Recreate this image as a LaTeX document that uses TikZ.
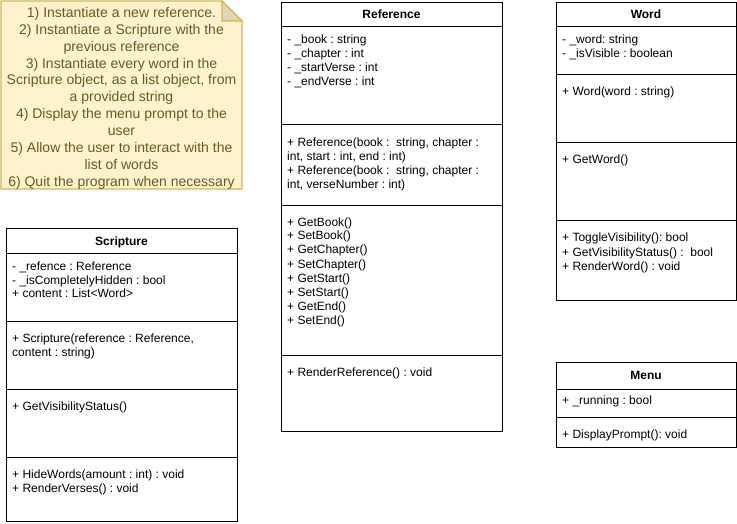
\documentclass[tikz,border=0pt]{standalone}
\usepackage{fontspec}
\setmainfont{Liberation Sans}
\frenchspacing
\definecolor{notefill}{HTML}{FFF2CC}
\definecolor{notedraw}{HTML}{D6B656}
\definecolor{notetxt}{RGB}{102,92,35}
\tikzset{
  classbox/.style={draw=black, line width=1pt, fill=white, inner sep=0pt, anchor=north west},
  sepline/.style={draw=black, line width=1pt},
  attr/.style={anchor=base west, inner sep=0pt, font=\fontsize{12}{14}\selectfont},
  ctitle/.style={anchor=base, inner sep=0pt, font=\fontsize{12}{14}\selectfont\bfseries},
  noteshape/.style={draw=notedraw, fill=notefill, line width=1.2pt, line join=miter},
  notefold/.style={draw=notedraw, fill=notefill!88!black, line width=1.2pt},
  noteline/.style={anchor=base, inner sep=0pt, text=notetxt, font=\fontsize{14}{17}\selectfont},
}
\begin{document}
\begin{tikzpicture}[x=1pt, y=-1pt]
\useasboundingbox (0,0) rectangle (737,524);

% ---------- Note ----------
\draw[noteshape] (1,1) -- (222,1) -- (242,21) -- (242,189) -- (1,189) -- cycle;
\draw[notefold] (222,1) -- (222,21) -- (242,21) -- cycle;
\foreach \t [count=\i] in {
  {1) Instantiate a new reference.},
  {2) Instantiate a Scripture with the},
  {previous reference},
  {3) Instantiate every word in the},
  {Scripture object, as a list object, from},
  {a provided string},
  {4) Display the menu prompt to the},
  {user},
  {5) Allow the user to interact with the},
  {list of words},
  {6) Quit the program when necessary}}
  \node[noteline] (note\i) at (121.5,{17.5+16.85*(\i-1)}) {\t};

% ---------- Scripture ----------
\node[classbox, minimum width=231pt, minimum height=293pt] (scripture) at (6,228) {};
\foreach \yy in {253,321,389,457}
  \draw[sepline] (scripture.west |- 0,\yy) -- (scripture.east |- 0,\yy);
\node[ctitle] (scriptureT) at (121.5,245) {Scripture};
\foreach \t [count=\i] in {
  {- \_refence : Reference},
  {- \_isCompletelyHidden : bool},
  {+ content : List<Word>}}
  \node[attr] (scA\i) at (12,{270+14*(\i-1)}) {\t};
\foreach \t [count=\i] in {
  {+ Scripture(reference : Reference,},
  {content : string)}}
  \node[attr] (scB\i) at (12,{342+14*(\i-1)}) {\t};
\node[attr] (scC1) at (12,410) {+ GetVisibilityStatus()};
\foreach \t [count=\i] in {
  {+ HideWords(amount : int) : void},
  {+ RenderVerses() : void}}
  \node[attr] (scD\i) at (12,{478+14*(\i-1)}) {\t};

% ---------- Reference ----------
\node[classbox, minimum width=221pt, minimum height=429pt] (reference) at (281,2) {};
\foreach \yy in {27,125,206,355}
  \draw[sepline] (reference.west |- 0,\yy) -- (reference.east |- 0,\yy);
\node[ctitle] (referenceT) at (391.5,19) {Reference};
\foreach \t [count=\i] in {
  {- \_book : string},
  {- \_chapter : int},
  {- \_startVerse : int},
  {- \_endVerse : int}}
  \node[attr] (reA\i) at (287,{44+14*(\i-1)}) {\t};
\foreach \t [count=\i] in {
  {+ Reference(book :\ \ string, chapter :},
  {int, start : int, end : int)},
  {+ Reference(book :\ \ string, chapter :},
  {int, verseNumber : int)}}
  \node[attr] (reB\i) at (287,{147+14*(\i-1)}) {\t};
\foreach \t [count=\i] in {
  {+ GetBook()},{+ SetBook()},{+ GetChapter()},{+ SetChapter()},
  {+ GetStart()},{+ SetStart()},{+ GetEnd()},{+ SetEnd()}}
  \node[attr] (reC\i) at (287,{226+14*(\i-1)}) {\t};
\node[attr] (reD1) at (287,376) {+ RenderReference() : void};

% ---------- Word ----------
\node[classbox, minimum width=180pt, minimum height=298pt] (word) at (556,2) {};
\foreach \yy in {27,75,143,221}
  \draw[sepline] (word.west |- 0,\yy) -- (word.east |- 0,\yy);
\node[ctitle] (wordT) at (646,19) {Word};
\foreach \t [count=\i] in {
  {- \_word: string},
  {- \_isVisible : boolean}}
  \node[attr] (woA\i) at (562,{44+14*(\i-1)}) {\t};
\node[attr] (woB1) at (562,96) {+ Word(word : string)};
\node[attr] (woC1) at (562,164) {+ GetWord()};
\foreach \t [count=\i] in {
  {+ ToggleVisibility(): bool},
  {+ GetVisibilityStatus() :\ \ bool},
  {+ RenderWord() : void}}
  \node[attr] (woD\i) at (562,{242+14*(\i-1)}) {\t};

% ---------- Menu ----------
\node[classbox, minimum width=180pt, minimum height=85pt] (menu) at (556,362) {};
\foreach \yy in {389,417}
  \draw[sepline] (menu.west |- 0,\yy) -- (menu.east |- 0,\yy);
\node[ctitle] (menuT) at (646,379) {Menu};
\node[attr] (meA1) at (562,404) {+ \_running : bool};
\node[attr] (meB1) at (562,438) {+ DisplayPrompt(): void};
\end{tikzpicture}
\end{document}
